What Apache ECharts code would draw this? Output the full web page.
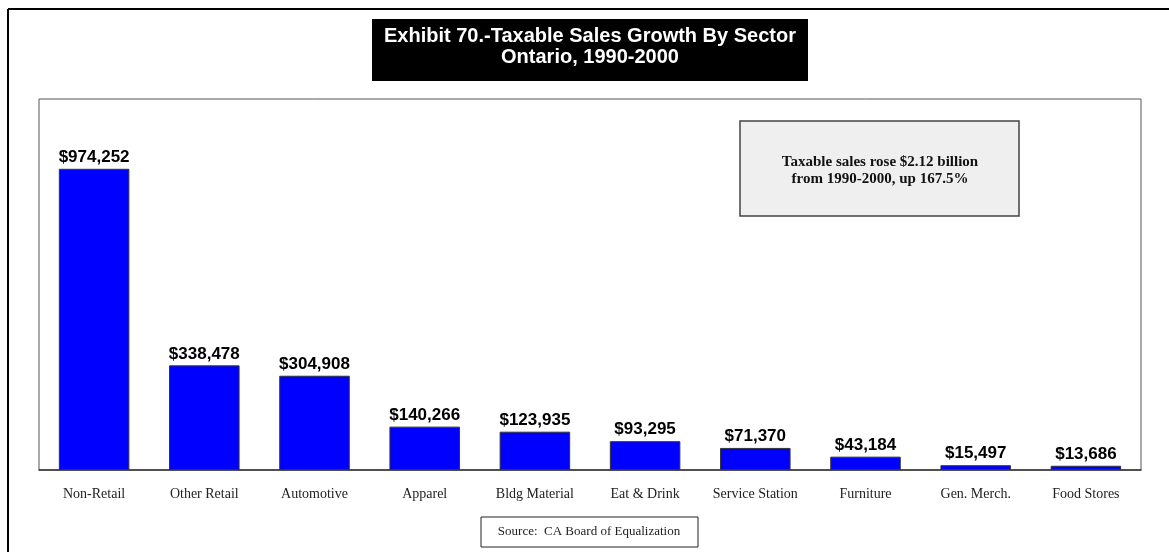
<!DOCTYPE html>
<html>
<head>
<meta charset="utf-8">
<script src="https://cdn.jsdelivr.net/npm/echarts@6/dist/echarts.min.js"></script>
<style>
  html, body { margin: 0; padding: 0; background: #fff; }
  #chart { width: 1169px; height: 552px; }
</style>
</head>
<body>
<div id="chart"></div>
<script>
// Sector categories and their 1990-2000 taxable sales growth (thousands of dollars)
const categories = ['Non-Retail', 'Other Retail', 'Automotive', 'Apparel', 'Bldg Material',
  'Eat & Drink', 'Service Station', 'Furniture', 'Gen. Merch.', 'Food Stores'];
const growth = [974252, 338478, 304908, 140266, 123935, 93295, 71370, 43184, 15497, 13686];

const titleLines = ['Exhibit 70.-Taxable Sales Growth By Sector', 'Ontario, 1990-2000'];
const noteLines = ['Taxable sales rose $2.12 billion', 'from 1990-2000, up 167.5%'];
const sourceText = 'Source:  CA Board of Equalization';

const chart = echarts.init(document.getElementById('chart'), null, { renderer: 'canvas' });

const money = v => '$' + v.toLocaleString('en-US');

chart.setOption({
  backgroundColor: '#ffffff',
  animation: false,
  grid: {
    left: 39, right: 28, top: 99, bottom: 82,
    show: true, borderColor: '#555555', borderWidth: 1, backgroundColor: '#ffffff'
  },
  xAxis: {
    type: 'category',
    data: categories,
    axisLine: { show: true, lineStyle: { color: '#333333', width: 1.5 } },
    axisTick: { show: false },
    axisLabel: {
      interval: 0, margin: 17,
      fontFamily: '"Liberation Serif", "Times New Roman", serif',
      fontSize: 14, color: '#222222'
    }
  },
  yAxis: {
    type: 'value', min: 0, max: 1200000,
    show: false, splitLine: { show: false }
  },
  series: [{
    type: 'bar',
    data: growth,
    barWidth: '64%',
    itemStyle: { color: '#0000ff', borderColor: '#333333', borderWidth: 1 },
    label: {
      show: true, position: 'top', distance: 3,
      formatter: p => money(p.value),
      fontFamily: '"Liberation Sans", Arial, sans-serif',
      fontWeight: 'bold', fontSize: 17, color: '#000000'
    }
  }],
  graphic: [
    // outer frame lines
    { type: 'line', shape: { x1: 8, y1: 9, x2: 1169, y2: 9 },
      style: { stroke: '#000000', lineWidth: 2 }, z: 10 },
    { type: 'line', shape: { x1: 8, y1: 9, x2: 8, y2: 552 },
      style: { stroke: '#000000', lineWidth: 2 }, z: 10 },
    // title block
    { type: 'rect', shape: { x: 372, y: 19, width: 436, height: 62 },
      style: { fill: '#000000' }, z: 10 },
    { type: 'text', x: 590, y: 47, z: 11,
      style: {
        text: titleLines.join('\n'), align: 'center', verticalAlign: 'middle',
        fill: '#ffffff', font: 'bold 20px "Liberation Sans", Arial, sans-serif', lineHeight: 21
      } },
    // note box
    { type: 'rect', shape: { x: 740, y: 121, width: 279, height: 95 },
      style: { fill: '#efefef', stroke: '#444444', lineWidth: 1.5 }, z: 10 },
    { type: 'text', x: 880, y: 171, z: 11,
      style: {
        text: noteLines.join('\n'), align: 'center', verticalAlign: 'middle',
        fill: '#111111', font: 'bold 15px "Liberation Serif", "Times New Roman", serif', lineHeight: 17
      } },
    // source box
    { type: 'rect', shape: { x: 481, y: 517, width: 217, height: 30 },
      style: { fill: '#ffffff', stroke: '#222222', lineWidth: 1 }, z: 10 },
    { type: 'text', x: 589, y: 532, z: 11,
      style: {
        text: sourceText, align: 'center', verticalAlign: 'middle',
        fill: '#222222', font: '13px "Liberation Serif", "Times New Roman", serif'
      } }
  ]
});
</script>
</body>
</html>
